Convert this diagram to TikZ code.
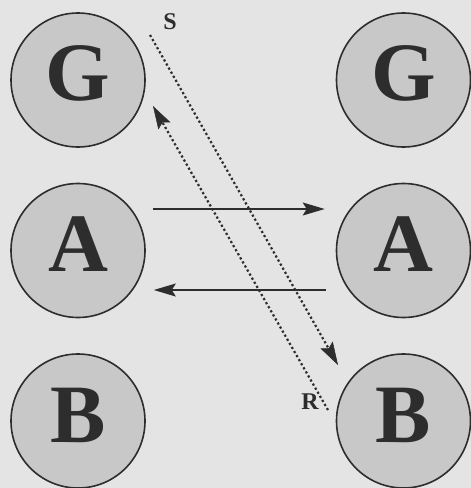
\documentclass[tikz,border=0pt]{standalone}
\usepackage{fontspec}
\setmainfont{Liberation Serif}[BoldFont={Liberation Serif Bold}]
\newfontfamily\labfont{Liberation Serif Bold}
\usetikzlibrary{arrows.meta}
\definecolor{bgc}{RGB}{228,228,228}
\definecolor{circfill}{RGB}{200,200,200}
\definecolor{inkc}{RGB}{45,45,45}
\begin{document}
\begin{tikzpicture}[x=1pt,y=-1pt,
  ball/.style={circle,draw=inkc,line width=1.6pt,fill=circfill,minimum size=134pt,inner sep=0pt},
  letter/.style={text=inkc,font=\labfont\fontsize{83}{83}\selectfont,inner sep=0pt},
  lbl/.style={text=inkc,font=\labfont\fontsize{24}{24}\selectfont,inner sep=0pt},
  arr/.style={draw=inkc,line width=1.5pt,-{Stealth[length=22pt,width=13pt,inset=4pt]}},
  dotarr/.style={draw=inkc,line width=2.2pt,line cap=butt,dash pattern=on 2.2pt off 2.5pt,-{Stealth[length=23pt,width=14pt,inset=4pt,line width=0.5pt]}}
  ]
  \fill[bgc] (0,0) rectangle (471,488);
  \useasboundingbox (0,0) rectangle (471,488);
  % circles
  \node[ball] (lG) at (78,80) {};
  \node[ball] (lA) at (78,250.5) {};
  \node[ball] (lB) at (78,421) {};
  \node[ball] (rG) at (403.5,80) {};
  \node[ball] (rA) at (403.5,250.5) {};
  \node[ball] (rB) at (403.5,421) {};
  % letters
  \node[letter] (tlG) at (78,73) {G};
  \node[letter] (tlA) at (78,244) {A};
  \node[letter] (tlB) at (78,415) {B};
  \node[letter] (trG) at (403.5,73) {G};
  \node[letter] (trA) at (403.5,244) {A};
  \node[letter] (trB) at (403.5,415) {B};
  % labels
  \node[lbl] (S) at (170,22) {S};
  \node[lbl] (R) at (310,402) {R};
  % solid arrows
  \draw[arr] ([shift={(7,-41.5)}]lA.east) -- ([shift={(-11,-41.5)}]rA.west);
  \draw[arr] ([shift={(-10,39.5)}]rA.west) -- ([shift={(8,39.5)}]lA.east);
  % dotted arrows
  \coordinate (s1) at (150,35);
  \coordinate (s2) at (338,365);
  \coordinate (r1) at (328,410);
  \coordinate (r2) at (153,106);
  \draw[dotarr] (s1) -- (s2);
  \draw[dotarr] (r1) -- (r2);
\end{tikzpicture}
\end{document}
